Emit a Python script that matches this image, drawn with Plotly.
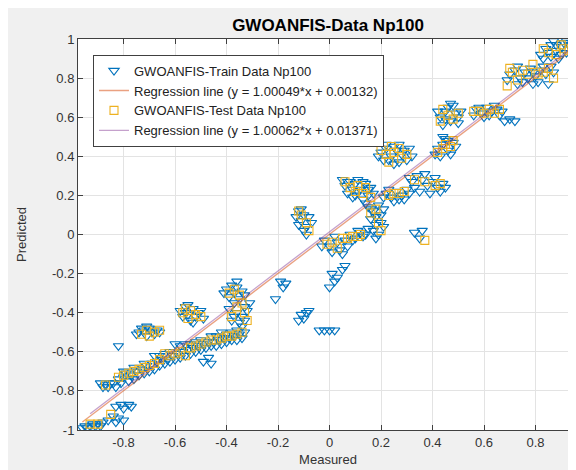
import plotly.graph_objects as go

# ---------------- data ----------------
train_measured = [
    -0.96, -0.95, -0.94, -0.93, -0.92, -0.91, -0.90, -0.89, -0.88,
    -0.86, -0.84, -0.83, -0.82, -0.80,
    -0.83, -0.81, -0.80, -0.78, -0.77,
    -0.89, -0.88, -0.87, -0.86, -0.85,
    -0.82,
    -0.84, -0.82, -0.80, -0.79, -0.77, -0.75, -0.73, -0.71, -0.69, -0.67, -0.65, -0.63, -0.61, -0.59,
    -0.57, -0.55, -0.53, -0.51, -0.49, -0.47, -0.45, -0.43, -0.41, -0.39, -0.37, -0.35, -0.33,
    -0.83, -0.81, -0.78, -0.76, -0.74, -0.72, -0.70, -0.68, -0.66, -0.64, -0.62, -0.60, -0.58,
    -0.56, -0.54, -0.52, -0.50, -0.48, -0.46, -0.44, -0.42, -0.40, -0.38, -0.36, -0.34,
    -0.80, -0.76, -0.72, -0.66, -0.64, -0.54, -0.50, -0.44, -0.42, -0.38, -0.36, -0.34,
    -0.68, -0.62, -0.58, -0.52, -0.46, -0.40, -0.60, -0.56,
    -0.74, -0.72, -0.71, -0.69, -0.67, -0.70, -0.73, -0.68, -0.66, -0.75, -0.71,
    -0.58, -0.56, -0.55, -0.53, -0.52, -0.54, -0.51, -0.57, -0.55, -0.50, -0.53, -0.56, -0.49,
    -0.40, -0.38, -0.36, -0.34, -0.39, -0.37, -0.35, -0.33, -0.36, -0.34, -0.32, -0.38, -0.35,
    -0.41, -0.37, -0.33, -0.39, -0.31, -0.37, -0.33, -0.36,
    -0.49, -0.47, -0.46,
    -0.21, -0.19, -0.18, -0.17,
    -0.12, -0.11, -0.10, -0.09, -0.08,
    -0.04, -0.02, 0.00, 0.02,
    0.00, 0.02, 0.03, 0.05, 0.06, 0.01,
    -0.12, -0.10, -0.11, -0.09, -0.08, -0.10, -0.13, -0.11, -0.07, -0.09, -0.12,
    -0.02, 0.00, 0.02, 0.04, 0.06, 0.08, 0.10, 0.12, 0.13, -0.03, 0.01, 0.03, 0.07, 0.09, 0.11, 0.14, 0.05,
    0.15, 0.17, 0.19, 0.16, 0.18, 0.20, 0.17, 0.19, 0.21, 0.14, 0.16, 0.18, 0.20, 0.21, 0.15, 0.18,
    0.06, 0.08, 0.10, 0.12, 0.14, 0.07, 0.09, 0.11, 0.15, 0.16, 0.13,
    0.05, 0.09, 0.11, 0.13, 0.15, 0.17, 0.10, 0.07,
    0.22, 0.24, 0.26, 0.28, 0.30, 0.27, 0.23, 0.25, 0.29, 0.31, 0.21,
    0.32, 0.34, 0.36, 0.38, 0.40, 0.42, 0.44, 0.35, 0.39, 0.33, 0.37, 0.41, 0.43, 0.45, 0.31,
    0.33, 0.35, 0.36,
    0.20, 0.22, 0.24, 0.26, 0.28, 0.30, 0.25, 0.21, 0.27, 0.31, 0.19, 0.23, 0.25, 0.29, 0.32, 0.27, 0.22,
    0.42, 0.44, 0.46, 0.48, 0.43, 0.45, 0.41, 0.47, 0.49, 0.44, 0.46,
    0.43, 0.45, 0.47, 0.49, 0.44, 0.48, 0.50, 0.42, 0.46, 0.50, 0.51, 0.45, 0.47,
    0.57, 0.59, 0.61, 0.63, 0.65, 0.60, 0.66, 0.56, 0.58, 0.62, 0.64, 0.67,
    0.68, 0.70, 0.72,
    0.70, 0.72, 0.74, 0.76, 0.78, 0.80, 0.82, 0.84, 0.86, 0.75, 0.81, 0.85,
    0.69, 0.73, 0.77, 0.79, 0.83, 0.87, 0.73, 0.79,
    0.82, 0.84, 0.86, 0.88, 0.90, 0.92, 0.94, 0.95, 0.89, 0.87, 0.91, 0.93,
    0.83, 0.85, 0.88, 0.90, 0.92, 0.94, 0.96, 0.96, 0.86,
]
train_predicted = [
    -0.99, -0.98, -0.99, -0.98, -0.97, -0.98, -0.97, -0.98, -0.96,
    -0.95, -0.93, -0.96, -0.94, -0.95,
    -0.88, -0.87, -0.89, -0.87, -0.88,
    -0.76, -0.78, -0.77, -0.78, -0.76,
    -0.57,
    -0.76, -0.74, -0.73, -0.71, -0.72, -0.70, -0.69, -0.67, -0.66, -0.65, -0.64, -0.64, -0.62, -0.61,
    -0.60, -0.59, -0.58, -0.57, -0.56, -0.55, -0.55, -0.54, -0.53, -0.53, -0.52, -0.51, -0.50,
    -0.78, -0.76, -0.75, -0.74, -0.72, -0.71, -0.70, -0.69, -0.67, -0.66, -0.65, -0.64, -0.63,
    -0.62, -0.61, -0.60, -0.59, -0.58, -0.57, -0.57, -0.56, -0.55, -0.54, -0.54, -0.53,
    -0.70, -0.68, -0.66, -0.62, -0.61, -0.56, -0.54, -0.52, -0.50, -0.50, -0.49, -0.47,
    -0.62, -0.60, -0.57, -0.55, -0.52, -0.51, -0.56, -0.56,
    -0.50, -0.49, -0.52, -0.50, -0.49, -0.48, -0.48, -0.51, -0.50, -0.51, -0.47,
    -0.39, -0.37, -0.41, -0.38, -0.42, -0.44, -0.40, -0.42, -0.36, -0.39, -0.45, -0.40, -0.43,
    -0.28, -0.26, -0.27, -0.29, -0.32, -0.35, -0.33, -0.37, -0.40, -0.42, -0.39, -0.44, -0.45,
    -0.30, -0.30, -0.31, -0.38, -0.35, -0.42, -0.44, -0.24,
    -0.65, -0.63, -0.66,
    -0.33, -0.24, -0.27, -0.25,
    -0.44, -0.41, -0.43, -0.40, -0.39,
    -0.49, -0.49, -0.49, -0.49,
    -0.27, -0.24, -0.22, -0.18, -0.16, -0.20,
    0.12, 0.10, 0.07, 0.04, 0.09, 0.02, 0.09, 0.13, 0.06, 0.00, 0.05,
    -0.03, -0.06, -0.01, -0.08, -0.03, 0.00, -0.02, 0.01, -0.01, -0.06, -0.09, -0.04, -0.06, -0.03, 0.02, 0.00, -0.10,
    0.14, 0.12, 0.15, 0.08, 0.05, 0.10, 0.02, 0.00, 0.04, 0.16, 0.13, 0.09, 0.06, 0.13, 0.03, -0.02,
    0.25, 0.27, 0.26, 0.23, 0.26, 0.21, 0.19, 0.22, 0.20, 0.24, 0.18,
    0.28, 0.23, 0.28, 0.27, 0.23, 0.21, 0.20, 0.27,
    0.21, 0.19, 0.22, 0.20, 0.23, 0.18, 0.23, 0.17, 0.18, 0.21, 0.19,
    0.27, 0.30, 0.28, 0.25, 0.27, 0.24, 0.26, 0.22, 0.21, 0.24, 0.31, 0.29, 0.22, 0.24, 0.29,
    0.01, -0.02, 0.02,
    0.42, 0.44, 0.40, 0.43, 0.41, 0.38, 0.36, 0.38, 0.46, 0.44, 0.40, 0.38, 0.45, 0.43, 0.40, 0.37, 0.46,
    0.44, 0.46, 0.43, 0.47, 0.40, 0.49, 0.41, 0.41, 0.45, 0.50, 0.48,
    0.60, 0.63, 0.58, 0.62, 0.56, 0.66, 0.60, 0.63, 0.65, 0.57, 0.63, 0.59, 0.67,
    0.64, 0.62, 0.65, 0.63, 0.64, 0.60, 0.61, 0.61, 0.65, 0.61, 0.66, 0.63,
    0.58, 0.59, 0.58,
    0.82, 0.84, 0.80, 0.83, 0.85, 0.81, 0.84, 0.82, 0.86, 0.78, 0.78, 0.77,
    0.79, 0.86, 0.80, 0.83, 0.86, 0.83, 0.77, 0.77,
    0.92, 0.95, 0.97, 0.94, 0.96, 0.93, 0.95, 0.91, 0.90, 0.99, 0.98, 0.97,
    0.90, 0.93, 0.97, 0.92, 0.99, 0.93, 0.94, 0.90, 0.91,
]

test_measured = [
    -0.82, -0.78, -0.74, -0.70, -0.66, -0.62, -0.58, -0.54, -0.50, -0.46, -0.42, -0.38, -0.34, -0.56, -0.64,
    -0.80, -0.76, -0.72, -0.68, -0.60, -0.52, -0.48, -0.44, -0.40, -0.36,
    -0.93, -0.90, -0.85,
    -0.87,
    -0.73, -0.68, -0.70, -0.71, -0.66,
    -0.57, -0.54, -0.52, -0.55, -0.56, -0.50,
    -0.37, -0.35, -0.33, -0.36, -0.39, -0.34, -0.38, -0.32,
    -0.11, -0.09, -0.12, -0.08,
    0.01, 0.05, 0.09, 0.12, -0.01, 0.03, 0.07, 0.11,
    0.16, 0.19, 0.18, 0.20,
    0.08, 0.11, 0.13, 0.06, 0.10, 0.14, 0.16,
    0.23, 0.27, 0.25, 0.29,
    0.37, 0.41, 0.33, 0.43,
    0.37,
    0.22, 0.25, 0.28, 0.24, 0.20, 0.27, 0.30, 0.23,
    0.44, 0.47, 0.42, 0.45, 0.48,
    0.46, 0.48, 0.43, 0.44, 0.50,
    0.58, 0.62, 0.64, 0.56, 0.60, 0.66,
    0.71, 0.73, 0.77, 0.79, 0.83, 0.69, 0.70, 0.75, 0.81, 0.85, 0.87,
    0.85, 0.90, 0.93, 0.83, 0.88, 0.91, 0.95,
]
test_predicted = [
    -0.73, -0.71, -0.69, -0.67, -0.64, -0.62, -0.60, -0.58, -0.56, -0.54, -0.53, -0.52, -0.50, -0.62, -0.61,
    -0.72, -0.70, -0.68, -0.66, -0.61, -0.57, -0.55, -0.54, -0.52, -0.51,
    -0.97, -0.97, -0.92,
    -0.77,
    -0.51, -0.50, -0.52, -0.49, -0.49,
    -0.40, -0.39, -0.41, -0.43, -0.38, -0.42,
    -0.28, -0.31, -0.40, -0.37, -0.30, -0.35, -0.42, -0.44,
    0.10, 0.06, 0.12, 0.02,
    -0.04, -0.02, -0.01, 0.00, -0.05, -0.07, -0.02, -0.01,
    0.11, 0.06, 0.13, 0.02,
    0.24, 0.25, 0.21, 0.27, 0.22, 0.24, 0.19,
    0.20, 0.21, 0.21, 0.22,
    0.27, 0.25, 0.28, 0.26,
    -0.03,
    0.41, 0.42, 0.39, 0.45, 0.43, 0.44, 0.41, 0.37,
    0.44, 0.45, 0.42, 0.46, 0.48,
    0.61, 0.59, 0.58, 0.64, 0.62,
    0.63, 0.64, 0.62, 0.63, 0.62, 0.64,
    0.83, 0.79, 0.82, 0.87, 0.83, 0.76, 0.85, 0.84, 0.82, 0.85, 0.80,
    0.93, 0.97, 0.94, 0.95, 0.92, 0.95, 0.96,
]

train_fit = (1.00049, 0.00132)   # slope, intercept from legend
test_fit = (1.00062, 0.01371)

train_name = "GWOANFIS-Train Data Np100"
test_name = "GWOANFIS-Test Data Np100"
train_line_name = "Regression line (y = 1.00049*x + 0.00132)"
test_line_name = "Regression line (y = 1.00062*x + 0.01371)"
title_text = "GWOANFIS-Data Np100"
x_ticks = [-0.8, -0.6, -0.4, -0.2, 0, 0.2, 0.4, 0.6, 0.8]
y_ticks = [-1, -0.8, -0.6, -0.4, -0.2, 0, 0.2, 0.4, 0.6, 0.8, 1]

# ---------------- figure ----------------
def fit_line(xs, coef):
    x0, x1 = min(xs), max(xs)
    return [x0, x1], [coef[0] * x0 + coef[1], coef[0] * x1 + coef[1]]

fig = go.Figure()
fig.add_trace(go.Scatter(
    x=train_measured, y=train_predicted, mode="markers", name=train_name,
    marker=dict(symbol="triangle-down-open", size=9, color="#0072BD", line=dict(width=1.1)),
))
lx, ly = fit_line(train_measured, train_fit)
fig.add_trace(go.Scatter(x=lx, y=ly, mode="lines", name=train_line_name,
                         line=dict(color="#D95319", width=1.3), opacity=0.55))
fig.add_trace(go.Scatter(
    x=test_measured, y=test_predicted, mode="markers", name=test_name,
    marker=dict(symbol="square-open", size=8, color="#EDB120", line=dict(width=1.1)),
))
lx2, ly2 = fit_line(test_measured, test_fit)
fig.add_trace(go.Scatter(x=lx2, y=ly2, mode="lines", name=test_line_name,
                         line=dict(color="#7E2F8E", width=1.3), opacity=0.45))

axis_common = dict(
    showline=True, linecolor="#404040", linewidth=1, mirror="ticks",
    ticks="inside", ticklen=5, tickcolor="#404040",
    showgrid=True, gridcolor="#e3e3e3", gridwidth=1, zeroline=False,
    tickfont=dict(family="Liberation Sans, Arial", size=13, color="#333333"),
)

fig.update_layout(
    width=576, height=470,
    paper_bgcolor="#f0f0f0", plot_bgcolor="white",
    margin=dict(l=70, r=6, t=31, b=48),
    font=dict(family="Liberation Sans, Arial", color="#333333"),
    title=dict(text="<b>" + title_text + "</b>", x=0.5, xref="paper", xanchor="center",
               y=1 - 17 / 470, yref="container", yanchor="middle",
               font=dict(size=17, color="#000000")),
    xaxis=dict(range=[-0.977, 0.965], tickvals=x_ticks,
               ticktext=[("%g" % v) for v in x_ticks],
               title=dict(text="Measured", font=dict(size=13), standoff=6),
               **axis_common),
    yaxis=dict(range=[-1, 1], tickvals=y_ticks,
               ticktext=[("%g" % v) for v in y_ticks],
               title=dict(text="Predicted", font=dict(size=13), standoff=22),
               **axis_common),
    legend=dict(x=0.03, y=0.96, xanchor="left", yanchor="top",
                bgcolor="white", bordercolor="#404040", borderwidth=1,
                font=dict(family="Liberation Sans, Arial", size=13, color="#222222"),
                tracegroupgap=0),
    showlegend=True,
)

fig.write_html("out.html")
